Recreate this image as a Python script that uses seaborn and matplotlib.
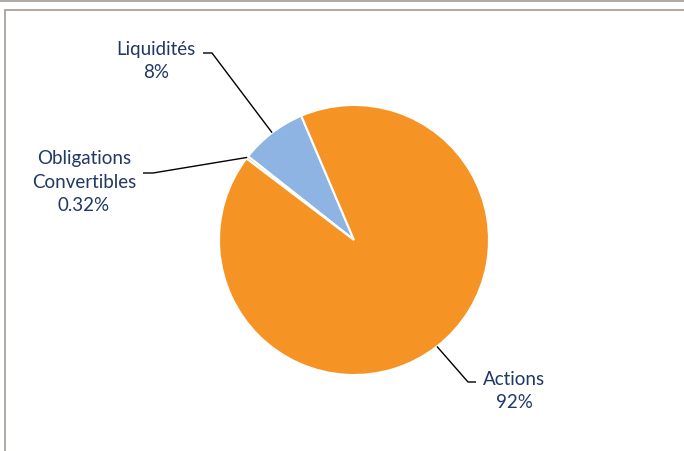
import numpy as np
import matplotlib
matplotlib.use("Agg")
import matplotlib.pyplot as plt
from matplotlib.lines import Line2D
import seaborn as sns

# Data
categories = ["Liquidités", "Obligations\nConvertibles", "Actions"]
values = [8.0, 0.32, 92.0]
value_labels = ["8%", "0.32%", "92%"]
colours = ["#8DB4E2", "#F4B531", "#F59325"]

sns.set_theme(style="white")
plt.rcParams["font.family"] = ["Lato", "DejaVu Sans"]

W, H = 684, 451
fig = plt.figure(figsize=(W / 100, H / 100), dpi=100)

# pie centre and radius in pixels
cx, cy, r = 354, 240, 135
ax = fig.add_axes([(cx - r) / W, (H - cy - r) / H, 2 * r / W, 2 * r / H])
wedges, _ = ax.pie(
    values,
    colors=colours,
    startangle=113,
    counterclock=True,
    radius=1,
    wedgeprops={"edgecolor": "white", "linewidth": 1.5},
)
ax.set_xlim(-1, 1)
ax.set_ylim(-1, 1)
ax.set_aspect("equal")
ax.axis("off")


def to_data(px, py):
    return (px - cx) / r, (cy - py) / r


# label layout (pixels): elbow point, end of horizontal tick, text centre
layout = [
    ((212, 53), (203, 53), (156, 61)),
    ((153, 173), (143, 173), (84, 182)),
    ((468, 382), (476, 382), (514, 391)),
]

text_colour = "#1F3864"
for wedge, cat, lab, (elbow, tick, txt) in zip(wedges, categories, value_labels, layout):
    mid = np.deg2rad((wedge.theta1 + wedge.theta2) / 2)
    start = (np.cos(mid), np.sin(mid))
    ex, ey = to_data(*elbow)
    tx, ty = to_data(*tick)
    ax.plot([start[0], ex, tx], [start[1], ey, ty], color="black", lw=1,
            clip_on=False, solid_capstyle="butt")
    lx, ly = to_data(*txt)
    ax.text(lx, ly, f"{cat}\n{lab}", ha="center", va="center", color=text_colour,
            fontsize=13.5, linespacing=1.45, clip_on=False)

# chart frame (grey lines at top and left)
frame = "#A39A93"
fig.add_artist(Line2D([0, 1], [1 - 0.5 / H, 1 - 0.5 / H], color=frame, lw=1.2))
fig.add_artist(Line2D([5 / W, 1], [1 - 10 / H, 1 - 10 / H], color=frame, lw=1.2))
fig.add_artist(Line2D([5 / W, 5 / W], [0, 1 - 10 / H], color=frame, lw=1.2))

fig.savefig("out.png", dpi=100)
